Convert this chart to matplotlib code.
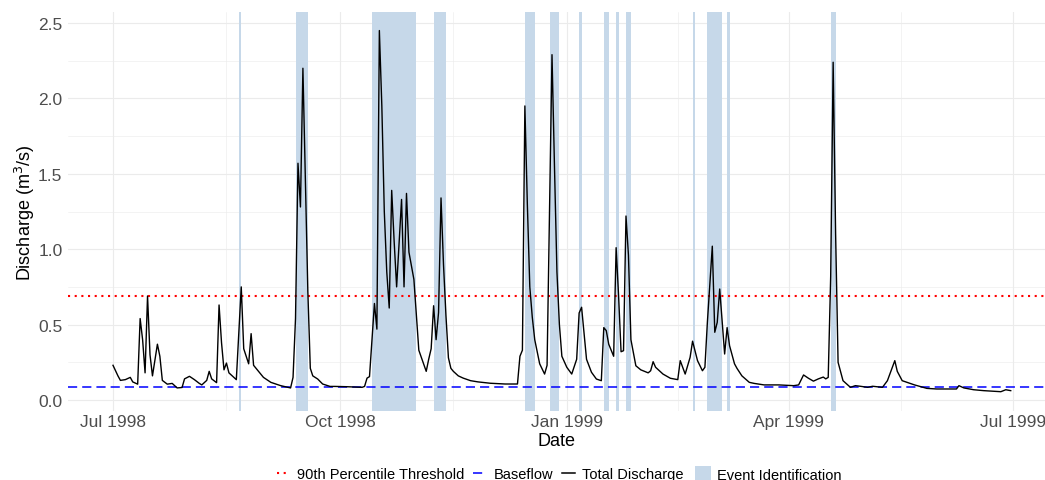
import matplotlib
matplotlib.use('Agg')
import matplotlib.pyplot as plt
import matplotlib.dates as mdates
from matplotlib.lines import Line2D
from matplotlib.patches import Patch
import numpy as np
import pandas as pd

plt.rcParams['font.family'] = ['Liberation Sans', 'DejaVu Sans']

# ---------------- data ----------------
dates = [
    '1998-07-01', '1998-07-03', '1998-07-04', '1998-07-06', '1998-07-08', '1998-07-09',
    '1998-07-11', '1998-07-12', '1998-07-13', '1998-07-14', '1998-07-15', '1998-07-16',
    '1998-07-17', '1998-07-19', '1998-07-20', '1998-07-21', '1998-07-23', '1998-07-25',
    '1998-07-26', '1998-07-27', '1998-07-29', '1998-07-30',
    '1998-08-01', '1998-08-03', '1998-08-05', '1998-08-06', '1998-08-08', '1998-08-09',
    '1998-08-10', '1998-08-12', '1998-08-13', '1998-08-14', '1998-08-15', '1998-08-16',
    '1998-08-17', '1998-08-20', '1998-08-22', '1998-08-23', '1998-08-25', '1998-08-26',
    '1998-08-27', '1998-08-31',
    '1998-09-03', '1998-09-07', '1998-09-11', '1998-09-12', '1998-09-13', '1998-09-14',
    '1998-09-15', '1998-09-16', '1998-09-17', '1998-09-18', '1998-09-19', '1998-09-20',
    '1998-09-22', '1998-09-24', '1998-09-27', '1998-09-29',
    '1998-10-04', '1998-10-10', '1998-10-11', '1998-10-12', '1998-10-13', '1998-10-15',
    '1998-10-16', '1998-10-17', '1998-10-18', '1998-10-19', '1998-10-20', '1998-10-21',
    '1998-10-22', '1998-10-23', '1998-10-24', '1998-10-26', '1998-10-27', '1998-10-28',
    '1998-10-29', '1998-10-31',
    '1998-11-02', '1998-11-05', '1998-11-06', '1998-11-07', '1998-11-08', '1998-11-09',
    '1998-11-10', '1998-11-11', '1998-11-12', '1998-11-13', '1998-11-14', '1998-11-15',
    '1998-11-16', '1998-11-18', '1998-11-20', '1998-11-23', '1998-11-26',
    '1998-12-01', '1998-12-07', '1998-12-12', '1998-12-13', '1998-12-14', '1998-12-15',
    '1998-12-16', '1998-12-17', '1998-12-18', '1998-12-19', '1998-12-21', '1998-12-23',
    '1998-12-24', '1998-12-26', '1998-12-27', '1998-12-28', '1998-12-29', '1998-12-30',
    '1999-01-01', '1999-01-03', '1999-01-05', '1999-01-06', '1999-01-07', '1999-01-09',
    '1999-01-11', '1999-01-13', '1999-01-15', '1999-01-16', '1999-01-17', '1999-01-18',
    '1999-01-20', '1999-01-21', '1999-01-22', '1999-01-23', '1999-01-24', '1999-01-25',
    '1999-01-26', '1999-01-27', '1999-01-29', '1999-01-31',
    '1999-02-03', '1999-02-04', '1999-02-05', '1999-02-06', '1999-02-09', '1999-02-12',
    '1999-02-15', '1999-02-16', '1999-02-18', '1999-02-20', '1999-02-21', '1999-02-23',
    '1999-02-25', '1999-02-26', '1999-02-27',
    '1999-03-01', '1999-03-02', '1999-03-03', '1999-03-04', '1999-03-05', '1999-03-06',
    '1999-03-07', '1999-03-08', '1999-03-10', '1999-03-11', '1999-03-13', '1999-03-16',
    '1999-03-18', '1999-03-22', '1999-03-28',
    '1999-04-03', '1999-04-05', '1999-04-07', '1999-04-09', '1999-04-11', '1999-04-13',
    '1999-04-15', '1999-04-16', '1999-04-17', '1999-04-18', '1999-04-19', '1999-04-20',
    '1999-04-21', '1999-04-23', '1999-04-26', '1999-04-28', '1999-04-30',
    '1999-05-03', '1999-05-05', '1999-05-09', '1999-05-11', '1999-05-14', '1999-05-15',
    '1999-05-17', '1999-05-22', '1999-05-27', '1999-05-31',
    '1999-06-04', '1999-06-08', '1999-06-09', '1999-06-11', '1999-06-15', '1999-06-19',
    '1999-06-26', '1999-06-28', '1999-06-30',
]

discharge = [
    0.23, 0.16, 0.13, 0.135, 0.15, 0.12,
    0.105, 0.54, 0.40, 0.18, 0.69, 0.30,
    0.16, 0.37, 0.29, 0.13, 0.105, 0.11,
    0.095, 0.08, 0.083, 0.14,
    0.157, 0.135, 0.11, 0.10, 0.13, 0.19,
    0.14, 0.115, 0.63, 0.38, 0.20, 0.245,
    0.18, 0.135, 0.75, 0.34, 0.24, 0.44,
    0.23, 0.15,
    0.117, 0.095, 0.08, 0.15, 0.54, 1.57,
    1.28, 2.20, 1.45, 0.72, 0.21, 0.16,
    0.139, 0.106, 0.09, 0.09,
    0.088, 0.084, 0.09, 0.145, 0.155, 0.64,
    0.47, 2.45, 1.95, 1.25, 0.85, 0.61,
    1.39, 1.05, 0.75, 1.33, 0.75, 1.37,
    0.98, 0.80,
    0.33, 0.19, 0.27, 0.34, 0.625, 0.40,
    0.58, 1.34, 0.90, 0.56, 0.28, 0.21,
    0.19, 0.16, 0.145, 0.128, 0.12,
    0.111, 0.106, 0.106, 0.29, 0.33, 1.95,
    1.30, 0.75, 0.55, 0.40, 0.24, 0.172,
    0.23, 2.29, 1.55, 0.85, 0.50, 0.29,
    0.217, 0.172, 0.27, 0.577, 0.615, 0.27,
    0.184, 0.139, 0.128, 0.48, 0.46, 0.37,
    0.29, 1.01, 0.69, 0.32, 0.327, 1.22,
    0.96, 0.40, 0.227, 0.20,
    0.18, 0.194, 0.254, 0.217, 0.172, 0.144,
    0.135, 0.261, 0.172, 0.283, 0.39, 0.261,
    0.194, 0.217, 0.515,
    1.02, 0.449, 0.515, 0.736, 0.52, 0.305,
    0.48, 0.36, 0.24, 0.21, 0.16, 0.117,
    0.11, 0.10, 0.10,
    0.095, 0.10, 0.166, 0.144, 0.125, 0.14,
    0.152, 0.14, 0.15, 0.82, 2.24, 1.10,
    0.25, 0.128, 0.084, 0.095, 0.091,
    0.084, 0.091, 0.084, 0.128, 0.261, 0.19,
    0.128, 0.10, 0.077, 0.073,
    0.073, 0.073, 0.095, 0.08, 0.068, 0.062,
    0.055, 0.068, 0.062,
]

event_start = ['1998-08-21', '1998-09-13', '1998-10-14', '1998-11-08', '1998-12-15',
               '1998-12-25', '1999-01-06', '1999-01-16', '1999-01-21', '1999-01-25',
               '1999-02-21', '1999-02-27', '1999-03-07', '1999-04-18']
event_end = ['1998-08-22', '1998-09-18', '1998-11-01', '1998-11-13', '1998-12-19',
             '1998-12-29', '1999-01-07', '1999-01-18', '1999-01-22', '1999-01-27',
             '1999-02-22', '1999-03-05', '1999-03-08', '1999-04-20']

threshold_90 = 0.69
baseflow = 0.086

tick_dates = ['1998-07-01', '1998-10-01', '1999-01-01', '1999-04-01', '1999-07-01']
tick_labels = ['Jul 1998', 'Oct 1998', 'Jan 1999', 'Apr 1999', 'Jul 1999']

# ---------------- plot ----------------
band_col = '#c6d8e9'
grid_col = '#ebebeb'

fig = plt.figure(figsize=(10.45, 4.81), dpi=100)
ax = fig.add_axes([68 / 1045, 69 / 481, 977 / 1045, 399 / 481])

t = pd.to_datetime(dates)
ax.plot(t, discharge, color='black', lw=1.0, zorder=4)

for s, e in zip(event_start, event_end):
    ax.axvspan(pd.Timestamp(s), pd.Timestamp(e), color=band_col, lw=0, zorder=1)

ax.axhline(threshold_90, color='red', ls=(0, (1, 2.2)), lw=1.5, zorder=3)
ax.axhline(baseflow, color='blue', ls=(0, (6, 3.3)), lw=1.1, zorder=3)

x0 = pd.Timestamp('1998-07-01')
ax.set_xlim(x0 - pd.Timedelta(days=18.25), x0 + pd.Timedelta(days=377.9))
ax.set_ylim(-0.073, 2.573)

tk = mdates.date2num(pd.to_datetime(tick_dates))
ax.set_xticks(tk)
ax.set_xticklabels(tick_labels)
ax.set_xticks((tk[:-1] + tk[1:]) / 2, minor=True)
ax.set_yticks(np.arange(0, 2.51, 0.5))
ax.set_yticks(np.arange(0.25, 2.6, 0.5), minor=True)

ax.grid(True, which='major', color=grid_col, lw=0.8, zorder=0)
ax.grid(True, which='minor', color=grid_col, lw=0.4, zorder=0)
ax.set_axisbelow(True)
for sp in ax.spines.values():
    sp.set_visible(False)
ax.tick_params(which='both', length=0)
ax.tick_params(axis='x', labelsize=12.5, labelcolor='#4d4d4d', pad=2)
ax.tick_params(axis='y', labelsize=12.5, labelcolor='#4d4d4d', pad=4)

ax.set_xlabel('Date', fontsize=13, labelpad=2)
ax.set_ylabel(r'Discharge (m$^3$/s)', fontsize=13, labelpad=1)

h_lines = [Line2D([], [], color='red', ls=(0, (1, 2.2)), lw=1.5),
           Line2D([], [], color='blue', ls=(0, (6, 3.3)), lw=1.1),
           Line2D([], [], color='black', lw=1.1)]
fig.legend(h_lines, ['90th Percentile Threshold', 'Baseflow', 'Total Discharge'],
           loc='center right', bbox_to_anchor=(684 / 1045, 0.013), ncol=3,
           frameon=False, fontsize=10.5, handlelength=0.9, handletextpad=0.5,
           columnspacing=0.6, borderpad=0, borderaxespad=0)
fig.legend([Patch(facecolor=band_col, lw=0)], ['Event Identification'],
           loc='center left', bbox_to_anchor=(695 / 1045, 0.013),
           frameon=False, fontsize=10.5, handlelength=1.1, handleheight=1.3,
           handletextpad=0.4, borderpad=0, borderaxespad=0)

fig.savefig('out.png', dpi=100)
